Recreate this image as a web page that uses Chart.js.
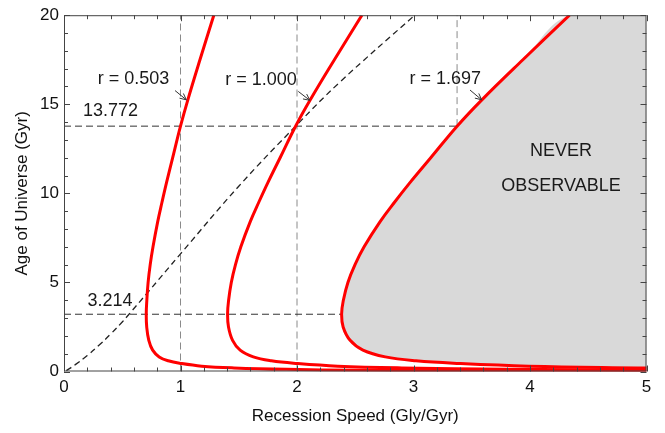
<!DOCTYPE html>
<html><head><meta charset="utf-8">
<script src="https://cdn.jsdelivr.net/npm/chart.js@4/dist/chart.umd.min.js"></script>
<style>html,body{margin:0;padding:0;background:#fff}</style>
</head><body>
<canvas id="c" width="665" height="433"></canvas>
<script>
// ---- axis ranges ----
const xMin = 0, xMax = 5, yMin = 0, yMax = 20;

// ---- r = 0.503 curve ----
const r1X = [1.286,1.167,1.063,1.0,0.933,0.881,0.841,0.804,0.764,0.740,0.722,0.711,0.706,0.710,0.728,0.761,0.817,0.895,1.006,1.182,1.459,1.911,2.515,3.31,4.68,5.08];
const r1Y = [20,17.5,15.25,13.77,12,10.63,9.5,8.4,7,6,5,4,3.23,2.5,1.75,1.2,0.82,0.6,0.45,0.3,0.2,0.12,0.07,0.04,0.02,0.017];
// ---- r = 1.000 curve ----
const r2X = [2.557,2.321,2.114,1.988,1.855,1.752,1.672,1.598,1.518,1.472,1.436,1.413,1.404,1.412,1.447,1.512,1.625,1.78,2.0,2.35,2.9,3.8,5.0];
const r2Y = [20,17.5,15.25,13.77,12,10.63,9.5,8.4,7,6,5,4,3.23,2.5,1.75,1.2,0.82,0.6,0.45,0.3,0.2,0.12,0.07];
// ---- r = 1.697 curve (edge of never-observable region) ----
const r3X = [4.339,3.939,3.587,3.374,3.148,2.973,2.837,2.712,2.576,2.498,2.437,2.398,2.383,2.396,2.456,2.566,2.758,3.021,3.394,3.988,4.921,5.1];
const r3Y = [20,17.5,15.25,13.77,12,10.63,9.5,8.4,7,6,5,4,3.23,2.5,1.75,1.2,0.82,0.6,0.45,0.3,0.2,0.19];
// ---- dashed black curve ----
const dashX = [0.02,0.1,0.2,0.3,0.4,0.5,0.558,0.72,1.0,1.5,2.0,2.369,3.01];
const dashY = [0.05,0.4,0.9,1.47,2.1,2.78,3.214,4.45,6.6,10.4,13.85,16.25,20];

// ---- reference lines ----
const vLineX = [1, 2, 3.374];
const vLineFrom = [0, 0, 13.772];
const vLineTo = [20, 20, 20];
const hLineY = [13.772, 3.214];
const hLineFrom = [0, 0];
const hLineTo = [3.374, 2.383];

// ---- annotations ----
const rLabels = ['r = 0.503', 'r = 1.000', 'r = 1.697'];
const rLabelX = [0.597, 1.691, 3.273];
const rLabelY = [16.43, 16.36, 16.41];
const arrowFromX = [0.953, 2.011, 3.485];
const arrowFromY = [15.77, 15.72, 15.8];
const arrowToX = [1.05, 2.11, 3.585];
const arrowToY = [15.25, 15.22, 15.25];
const valueLabels = ['13.772', '3.214'];
const valueLabelX = [0.399, 0.395];
const valueLabelY = [14.62, 3.95];
const regionLabels = ['NEVER', 'OBSERVABLE'];
const regionLabelX = [4.266, 4.266];
const regionLabelY = [12.35, 10.4];

const FONT = "'Liberation Sans', Arial, Helvetica, sans-serif";
const pts = (xs, ys) => xs.map((v, i) => ({x: v, y: ys[i]}));

const datasets = [];
// shaded region
datasets.push({
  data: [{x: xMax, y: yMax}].concat(pts(r3X, r3Y)),
  showLine: true, pointRadius: 0, borderWidth: 0, borderColor: 'rgba(0,0,0,0)',
  backgroundColor: '#d9d9d9', fill: 'shape', tension: 0.4, order: 10
});
vLineX.forEach((v, i) => datasets.push({
  data: [{x: v, y: vLineFrom[i]}, {x: v, y: vLineTo[i]}],
  showLine: true, pointRadius: 0, borderColor: '#8a8a8a', borderWidth: 1,
  borderDash: [7, 4], fill: false, order: 8
}));
hLineY.forEach((v, i) => datasets.push({
  data: [{x: hLineFrom[i], y: v}, {x: hLineTo[i], y: v}],
  showLine: true, pointRadius: 0, borderColor: '#333', borderWidth: 1,
  borderDash: [7, 4], fill: false, order: 7
}));
datasets.push({
  data: pts(dashX, dashY), showLine: true, pointRadius: 0, borderColor: '#222',
  borderWidth: 1.3, borderDash: [6, 4], tension: 0.4, fill: false, order: 5
});
[[r1X, r1Y], [r2X, r2Y], [r3X, r3Y]].forEach(([xs, ys]) => datasets.push({
  data: pts(xs, ys), showLine: true, pointRadius: 0, borderColor: '#ff0000',
  borderWidth: 3, tension: 0.4, fill: false, order: 1
}));

const annot = {
  id: 'annot',
  afterDraw(chart) {
    const {ctx, chartArea: a, scales: {x, y}} = chart;
    ctx.save();
    ctx.strokeStyle = '#444'; ctx.lineWidth = 1; ctx.setLineDash([]);
    ctx.strokeRect(a.left + 0.5, a.top + 0.5, a.right - a.left - 1, a.bottom - a.top - 1);
    ctx.beginPath();
    for (let i = 0; i <= 25; i++) {
      const px = Math.round(x.getPixelForValue(xMin + i * 0.2)) + 0.5;
      const len = i % 5 === 0 ? 6 : 4;
      ctx.moveTo(px, a.bottom); ctx.lineTo(px, a.bottom - len);
      ctx.moveTo(px, a.top); ctx.lineTo(px, a.top + len);
    }
    for (let i = 0; i <= 20; i++) {
      const py = Math.round(y.getPixelForValue(yMin + i)) + 0.5;
      const len = i % 5 === 0 ? 6 : 4;
      ctx.moveTo(a.left, py); ctx.lineTo(a.left + len, py);
      ctx.moveTo(a.right, py); ctx.lineTo(a.right - len, py);
    }
    ctx.stroke();
    // arrows
    ctx.strokeStyle = '#333';
    for (let i = 0; i < arrowFromX.length; i++) {
      const x0 = x.getPixelForValue(arrowFromX[i]), y0 = y.getPixelForValue(arrowFromY[i]);
      const x1 = x.getPixelForValue(arrowToX[i]), y1 = y.getPixelForValue(arrowToY[i]);
      const ang = Math.atan2(y1 - y0, x1 - x0);
      ctx.beginPath();
      ctx.moveTo(x0, y0); ctx.lineTo(x1, y1);
      ctx.moveTo(x1 - 7 * Math.cos(ang - 0.45), y1 - 7 * Math.sin(ang - 0.45));
      ctx.lineTo(x1, y1);
      ctx.lineTo(x1 - 7 * Math.cos(ang + 0.45), y1 - 7 * Math.sin(ang + 0.45));
      ctx.stroke();
    }
    // texts
    ctx.fillStyle = '#1a1a1a';
    ctx.font = '18px ' + FONT;
    ctx.textAlign = 'center'; ctx.textBaseline = 'middle';
    rLabels.forEach((t, i) => ctx.fillText(t, x.getPixelForValue(rLabelX[i]), y.getPixelForValue(rLabelY[i])));
    valueLabels.forEach((t, i) => ctx.fillText(t, x.getPixelForValue(valueLabelX[i]), y.getPixelForValue(valueLabelY[i])));
    regionLabels.forEach((t, i) => ctx.fillText(t, x.getPixelForValue(regionLabelX[i]), y.getPixelForValue(regionLabelY[i])));
    ctx.restore();
  }
};

new Chart(document.getElementById('c'), {
  type: 'scatter',
  data: {datasets},
  options: {
    responsive: false, animation: false, devicePixelRatio: 1,
    layout: {padding: {left: 0, top: 11, right: 18.5, bottom: 0}},
    plugins: {legend: {display: false}, tooltip: {enabled: false}},
    scales: {
      x: {
        type: 'linear', min: xMin, max: xMax,
        afterFit: s => { s.height = 61.5; },
        grid: {display: false, drawTicks: false}, border: {display: false},
        ticks: {stepSize: 1, padding: 6, color: '#111', font: {family: FONT, size: 17}},
        title: {display: true, text: 'Recession Speed (Gly/Gyr)', color: '#111',
                font: {family: FONT, size: 17}, padding: {top: 0, bottom: 6}}
      },
      y: {
        type: 'linear', min: yMin, max: yMax,
        afterFit: s => { s.width = 64; },
        grid: {display: false, drawTicks: false}, border: {display: false},
        ticks: {stepSize: 5, padding: 5, color: '#111', font: {family: FONT, size: 17}},
        title: {display: true, text: 'Age of Universe (Gyr)', color: '#111',
                font: {family: FONT, size: 17}, padding: {top: 12, bottom: 0}}
      }
    }
  },
  plugins: [annot]
});
</script>
</body></html>
